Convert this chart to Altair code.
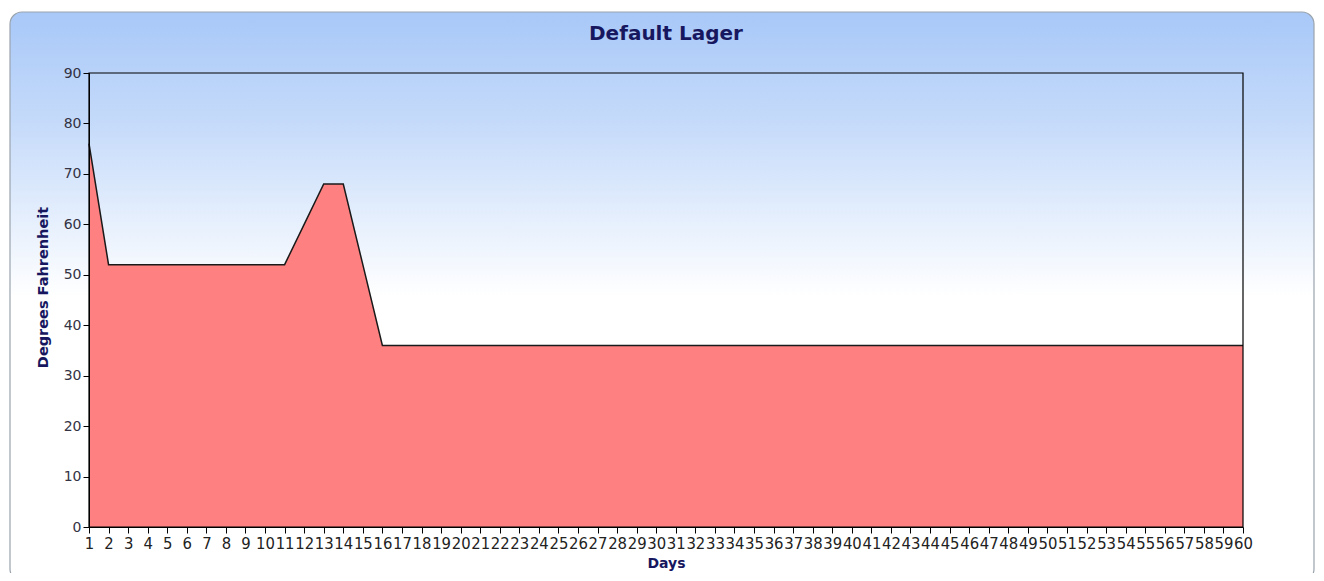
import altair as alt
import pandas as pd

days = list(range(1, 61))
temps = [76, 52, 52, 52, 52, 52, 52, 52, 52, 52,
         52, 60, 68, 68, 52, 36, 36, 36, 36, 36,
         36, 36, 36, 36, 36, 36, 36, 36, 36, 36,
         36, 36, 36, 36, 36, 36, 36, 36, 36, 36,
         36, 36, 36, 36, 36, 36, 36, 36, 36, 36,
         36, 36, 36, 36, 36, 36, 36, 36, 36, 36]
y_ticks = [0, 10, 20, 30, 40, 50, 60, 70, 80, 90]

df = pd.DataFrame({"Day": days, "Temp": temps})
one = pd.DataFrame({"a": [0]})

W, H = 1154, 454
NAVY = "#17175f"

panel = alt.Chart(one).mark_rect(
    cornerRadius=12,
    stroke="#9aa3ad",
    strokeWidth=1.2,
    fill=alt.Gradient(
        gradient="linear",
        x1=0, x2=0, y1=0, y2=1,
        stops=[
            alt.GradientStop(offset=0, color="#a8c8f8"),
            alt.GradientStop(offset=0.2, color="#c6dbfa"),
            alt.GradientStop(offset=0.5, color="#ffffff"),
            alt.GradientStop(offset=1, color="#ffffff"),
        ],
    ),
).encode(
    x=alt.value(-79), x2=alt.value(1225),
    y=alt.value(-61), y2=alt.value(508),
)

xscale = alt.Scale(domain=[1, 60], nice=False, zero=False)
yscale = alt.Scale(domain=[0, 90], nice=False)

xaxis = alt.Axis(
    values=days, labelAngle=0, labelOverlap=False, labelFlush=False,
    labelFont="DejaVu Sans Condensed, Liberation Sans Narrow, DejaVu Sans",
    labelFontSize=16.5, labelColor="#222222", labelPadding=2,
    tickColor="#000000", tickSize=6, domainColor="#000000", grid=False,
    title="Days", titleFont="DejaVu Sans", titleFontSize=14, titleFontWeight="bold",
    titleColor=NAVY, titlePadding=5, zindex=1,
)
yaxis = alt.Axis(
    values=y_ticks, labelFont="DejaVu Sans", labelFontSize=14, labelColor="#333344",
    labelPadding=2, tickColor="#000000", tickSize=6, domainColor="#000000", grid=False,
    title="Degrees Fahrenheit", titleFont="DejaVu Sans", titleFontSize=14.5,
    titleFontWeight="bold", titleColor=NAVY, titlePadding=13, titleY=214, zindex=1,
)

area = alt.Chart(df).mark_area(color="#ff8080", opacity=1).encode(
    x=alt.X("Day:Q", scale=xscale, axis=xaxis),
    y=alt.Y("Temp:Q", scale=yscale, axis=yaxis),
)
line = alt.Chart(df).mark_line(color="#1a1a1a", strokeWidth=1.5).encode(
    x=alt.X("Day:Q", scale=xscale, axis=xaxis),
    y=alt.Y("Temp:Q", scale=yscale, axis=yaxis),
)
frame = alt.Chart(one).mark_rect(fill=None, stroke="#000000", strokeWidth=1.2).encode(
    x=alt.value(0), x2=alt.value(W), y=alt.value(0), y2=alt.value(H),
)

chart = alt.layer(panel, area, line, frame).properties(
    width=W, height=H,
    padding={"left": 81, "top": 65, "right": 73, "bottom": 46},
    autosize=alt.AutoSizeParams(type="none"),
    title=alt.TitleParams(
        "Default Lager", font="DejaVu Sans", fontSize=20, fontWeight="bold",
        color=NAVY, offset=0, dy=33, anchor="middle", frame="group",
    ),
).configure_view(stroke=None).configure(background="white").configure_axisX(
    labelOverlap=False
)

chart.save("out.html", embed_options={"renderer": "svg", "actions": False})
